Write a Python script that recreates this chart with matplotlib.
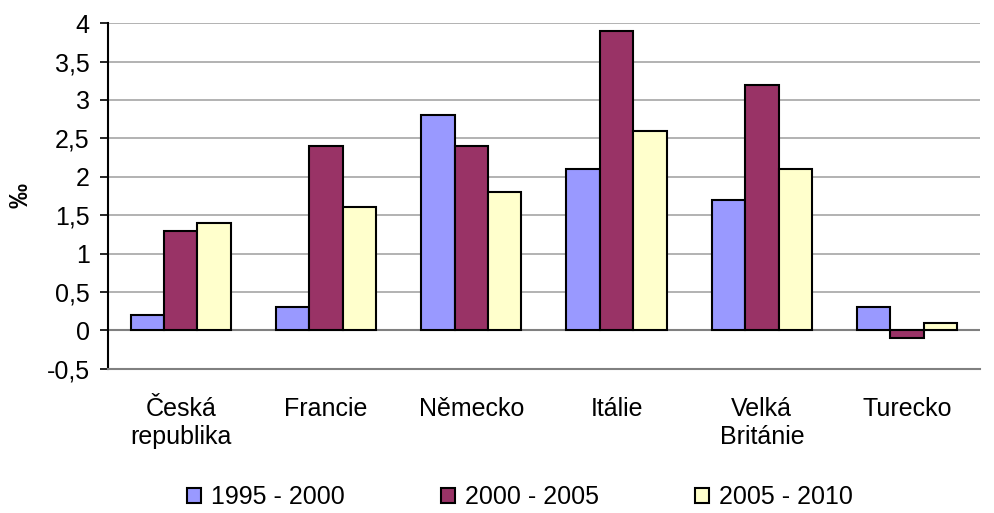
import matplotlib
matplotlib.use("Agg")
import matplotlib.pyplot as plt
import numpy as np

plt.rcParams['font.family'] = ['Liberation Sans', 'DejaVu Sans']

countries = ["Česká\nrepublika", "Francie", "Německo", "Itálie", "Velká\nBritánie", "Turecko"]
periods = ["1995 - 2000", "2000 - 2005", "2005 - 2010"]
v1995 = [0.2, 0.3, 2.8, 2.1, 1.7, 0.3]
v2000 = [1.3, 2.4, 2.4, 3.9, 3.2, -0.1]
v2005 = [1.4, 1.6, 1.8, 2.6, 2.1, 0.1]
colors = ["#9999FF", "#993366", "#FFFFCC"]

fig = plt.figure(figsize=(9.94, 5.13), dpi=100)
ax = fig.add_axes([0.1087, 0.281, 0.877, 0.674])

x = np.arange(len(countries))
w = 0.23
for i, (vals, lab) in enumerate(zip([v1995, v2000, v2005], periods)):
    ax.bar(x + (i - 1) * w, vals, w, color=colors[i], edgecolor="black",
           linewidth=1.5, label=lab, zorder=3)

ax.set_ylim(-0.5, 4)
ax.set_xlim(-0.5, len(countries) - 0.5)
ticks = np.arange(-0.5, 4.01, 0.5)
ax.set_yticks(ticks)
ax.set_yticklabels([f"{t:g}".replace(".", ",") for t in ticks])
ax.yaxis.grid(True, color="#a6a6a6", linewidth=1.2, zorder=0)
ax.axhline(0, color="#808080", linewidth=1.5, zorder=2)
ax.set_xticks(x)
ax.set_xticklabels(countries, linespacing=1.25)
ax.tick_params(axis="x", length=0, pad=20, labelsize=18)
ax.tick_params(axis="y", length=5.8, width=1.2, labelsize=18, pad=7.5)
for s in ["top", "right"]:
    ax.spines[s].set_visible(False)
ax.spines["left"].set_linewidth(1.5)
ax.spines["bottom"].set_color("#808080")
ax.spines["bottom"].set_linewidth(1.5)
ax.set_ylabel("‰", fontsize=18, fontweight="bold", labelpad=10)

fig.legend(loc="center", bbox_to_anchor=(0.523, 0.031), ncol=3, frameon=False,
           fontsize=18, handlelength=0.55, handleheight=0.55, handletextpad=0.4,
           columnspacing=3.85)

fig.savefig("out.png", dpi=100)
